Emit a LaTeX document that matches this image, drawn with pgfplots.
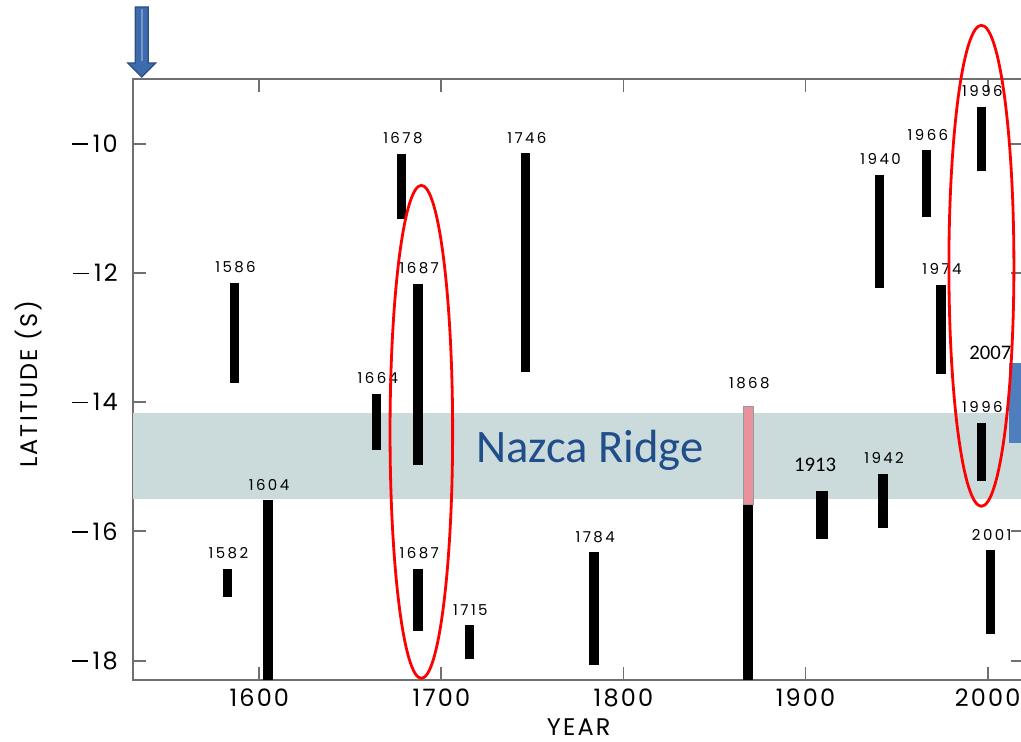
\documentclass[border=0pt]{standalone}
\usepackage{fontspec}
\usepackage{pgfplots}
\pgfplotsset{compat=1.18}
\newfontfamily\figfont[LetterSpace=9]{Poppins}
\newfontfamily\lblfont[LetterSpace=16]{Poppins}
\newfontfamily\cfont{Carlito}
\definecolor{band}{HTML}{CBDADB}
\definecolor{nazca}{HTML}{1F4E8A}
\definecolor{barpink}{HTML}{E8929C}
\definecolor{arrowblue}{HTML}{3E6AAE}
\definecolor{arrowdark}{HTML}{2C4F86}
\definecolor{boxblue}{HTML}{4E7EBE}
\definecolor{axgray}{HTML}{707070}
\newcommand\mn{\rule[3.7pt]{8pt}{0.8pt}\hspace{2.5pt}}
\newcommand\vbar[3]{\addplot[black, line width=4.7pt, line cap=butt, forget plot] coordinates {(#1,#2) (#1,#3)};}
\newcommand\blabel[3]{\node[font=\lblfont\fontsize{7.5}{8}\selectfont, anchor=base, inner sep=0pt, yshift=5pt, xshift=0.6pt] at (axis cs:#1,#2) {#3};}
\begin{document}
\begin{tikzpicture}
\begin{axis}[
  at={(0,0)}, anchor=south west,
  scale only axis, width=445.35pt, height=300.5pt,
  xmin=1530.8, xmax=2020, ymin=-18.3, ymax=-9.0,
  clip=false,
  axis line style={axgray, line width=0.9pt},
  tick style={axgray, line width=0.9pt},
  major tick length=6.5pt, tick align=inside,
  xtick={1600,1700,1800,1900,2000},
  ytick={-18,-16,-14,-12,-10},
  yticklabels={\mn18,\mn16,\mn14,\mn12,\mn10},
  /pgf/number format/assume math mode=true,
  /pgf/number format/1000 sep={},
  xticklabel style={font=\figfont\fontsize{12}{14}\selectfont, anchor=north, inner sep=0pt, yshift=-4pt},
  yticklabel style={font=\figfont\fontsize{12}{14}\selectfont, anchor=east, inner sep=0pt, xshift=-7.6pt},
  xlabel={YEAR}, ylabel={LATITUDE (S)},
  xlabel style={font=\figfont\fontsize{12}{14}\selectfont, at={(axis description cs:0.5,-0.092)}, anchor=base, inner sep=0pt},
  ylabel style={font=\figfont\fontsize{12}{14}\selectfont, at={(axis description cs:-0.107,0.4925)}, anchor=base, inner sep=0pt, rotate=0},
]
% Nazca Ridge band
\addplot[fill=band, draw=none, forget plot] coordinates {(1530.8,-14.17) (2020,-14.17) (2020,-15.50) (1530.8,-15.50)} -- cycle;
% blue box at right edge
\addplot[fill=boxblue, draw=none, forget plot] coordinates {(2011.6,-13.39) (2030,-13.39) (2030,-14.63) (2011.6,-14.63)} -- cycle;
\node[font=\cfont\fontsize{23.3}{26}\selectfont, text=nazca, anchor=base, inner sep=0pt] at (axis cs:1781.6,-14.93) {Nazca Ridge};
% eruption bars
\vbar{1582.4}{-16.58}{-17.01}
\vbar{1586.3}{-12.15}{-13.70}
\vbar{1604.7}{-15.52}{-18.3}
\vbar{1664.5}{-13.87}{-14.74}
\vbar{1678.2}{-10.16}{-11.16}
\vbar{1687.2}{-12.17}{-14.98}
\vbar{1687.2}{-16.58}{-17.54}
\vbar{1715.3}{-17.45}{-17.98}
\vbar{1746.3}{-10.15}{-13.54}
\vbar{1783.8}{-16.32}{-18.07}
\vbar{1868.5}{-15.59}{-18.3}
\addplot[fill=barpink, draw=gray!80, line width=0.5pt, forget plot] coordinates {(1865.75,-14.06) (1871.25,-14.06) (1871.25,-15.59) (1865.75,-15.59)} -- cycle;
\addplot[black, line width=6pt, line cap=butt, forget plot] coordinates {(1909.3,-15.38) (1909.3,-16.12)};
\vbar{1940.6}{-10.48}{-12.24}
\vbar{1942.5}{-15.11}{-15.95}
\vbar{1966.6}{-10.10}{-11.14}
\vbar{1974.3}{-12.18}{-13.56}
\vbar{1996.5}{-9.43}{-10.42}
\vbar{1996.5}{-14.32}{-15.22}
\vbar{2001.6}{-16.29}{-17.59}
% labels
\blabel{1582.4}{-16.58}{1582}
\blabel{1586.3}{-12.15}{1586}
\blabel{1604.7}{-15.52}{1604}
\blabel{1664.5}{-13.87}{1664}
\blabel{1678.2}{-10.16}{1678}
\blabel{1687.2}{-12.17}{1687}
\blabel{1687.2}{-16.58}{1687}
\blabel{1715.3}{-17.45}{1715}
\blabel{1746.3}{-10.15}{1746}
\blabel{1783.8}{-16.32}{1784}
\blabel{1868.5}{-13.95}{1868}
\blabel{1940.6}{-10.48}{1940}
\blabel{1942.5}{-15.11}{1942}
\blabel{1966.6}{-10.10}{1966}
\blabel{1974.3}{-12.18}{1974}
\blabel{1996.5}{-9.43}{1996}
\blabel{1996.5}{-14.32}{1996}
\blabel{2001.6}{-16.29}{2001}
\node[font=\cfont\fontsize{10.35}{12}\selectfont, anchor=base, inner sep=0pt] at (axis cs:1905.3,-15.07) {1913};
\node[font=\cfont\fontsize{10.35}{12}\selectfont, anchor=base, inner sep=0pt] at (axis cs:2001.5,-13.34) {2007};
% red ellipses
\draw[red, line width=1.4pt] (axis cs:1689.0,-14.46) ellipse [x radius=15.65pt, y radius=123.25pt];
\draw[red, line width=1.4pt] (axis cs:1996.6,-11.89) ellipse [x radius=16.25pt, y radius=120.25pt];
\end{axis}
% blue arrow
\filldraw[fill=arrowblue, draw=arrowdark, line width=0.6pt]
  (0.95pt,336.5pt) -- (0.95pt,308.5pt) -- (-2.8pt,308.5pt) -- (4.2pt,301.5pt) -- (11.2pt,308.5pt) -- (7.45pt,308.5pt) -- (7.45pt,336.5pt) -- cycle;
\draw[color=arrowblue!70!white, line width=1.2pt] (4.2pt,335.5pt) -- (4.2pt,309.5pt);
\pgfresetboundingbox
\path (-66.65pt,-31pt) rectangle (443.85pt,340pt);
\end{tikzpicture}
\end{document}
